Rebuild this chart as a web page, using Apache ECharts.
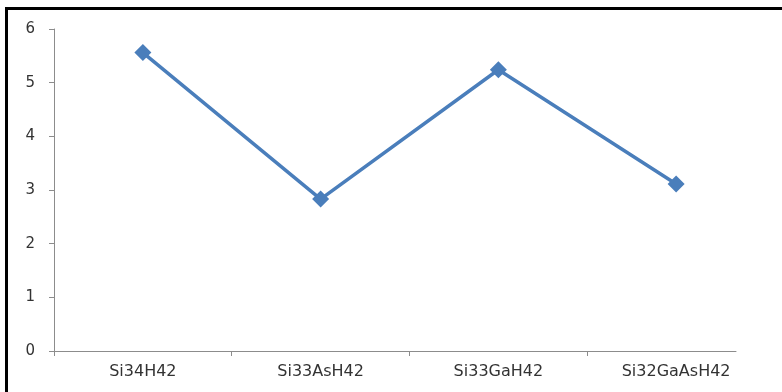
<!DOCTYPE html>
<html>
<head>
<meta charset="utf-8">
<script src="https://cdn.jsdelivr.net/npm/echarts@6/dist/echarts.min.js"></script>
<style>
  html, body { margin: 0; padding: 0; background: #fff; overflow: hidden; }
  #frame { position: absolute; left: 5px; top: 7px; width: 900px; height: 500px; border: 3px solid #000; box-sizing: border-box; }
  #chart { position: absolute; left: 0; top: 0; width: 782px; height: 392px; }
</style>
</head>
<body>
<div id="frame"></div>
<div id="chart"></div>
<script>
// Structures and their plotted values
const categories = ['Si34H42', 'Si33AsH42', 'Si33GaH42', 'Si32GaAsH42'];
const values = [5.56, 2.83, 5.24, 3.11];
const yTicks = [0, 1, 2, 3, 4, 5, 6];

const axisGray = '#8c8c8c';
const textColor = '#333333';
const font = 'DejaVu Sans';

const chart = echarts.init(document.getElementById('chart'), null, { renderer: 'canvas' });

chart.setOption({
  animation: false,
  backgroundColor: 'transparent',
  grid: [
    { left: 54, right: 17, top: 29, bottom: 41 },
    // baseline axis with its category separators
    { left: 54, right: 46, top: 29, bottom: 41 }
  ],
  xAxis: [
    {
      type: 'category',
      gridIndex: 0,
      data: categories,
      boundaryGap: true,
      axisLine: { show: false },
      axisTick: { show: false },
      axisLabel: { color: textColor, fontFamily: font, fontSize: 16, margin: 13 }
    },
    {
      type: 'value',
      gridIndex: 1,
      min: 0,
      max: 3.837,
      axisLine: { show: true, lineStyle: { color: axisGray, width: 1 } },
      axisTick: { show: true, length: 5, customValues: [0, 1, 2, 3], lineStyle: { color: axisGray } },
      axisLabel: { show: false },
      splitLine: { show: false }
    }
  ],
  yAxis: [
    {
      type: 'value',
      gridIndex: 0,
      min: yTicks[0],
      max: yTicks[yTicks.length - 1],
      interval: 1,
      axisLine: { show: true, lineStyle: { color: axisGray, width: 1 } },
      axisTick: { show: true, length: 5, lineStyle: { color: axisGray } },
      axisLabel: { color: textColor, fontFamily: font, fontSize: 15, margin: 19 },
      splitLine: { show: false }
    },
    {
      type: 'value',
      gridIndex: 1,
      min: 0,
      max: 6,
      show: false
    }
  ],
  series: [
    {
      type: 'line',
      xAxisIndex: 0,
      yAxisIndex: 0,
      data: values,
      symbol: 'diamond',
      symbolSize: 17,
      lineStyle: { color: '#4a7ebb', width: 3.5 },
      itemStyle: { color: '#4a7ebb' }
    }
  ]
});
</script>
</body>
</html>
